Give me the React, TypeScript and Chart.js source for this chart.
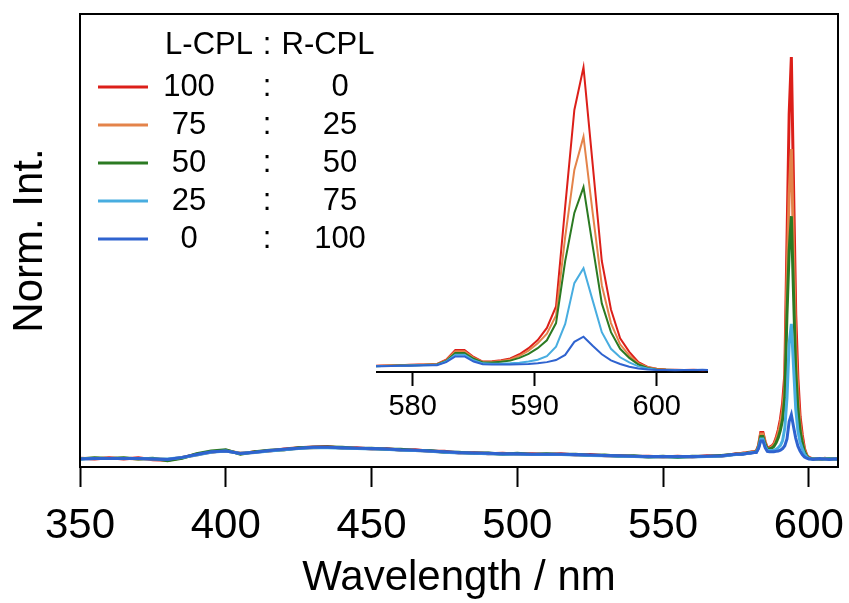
import React, { useEffect, useRef } from 'react';
import { Chart, registerables } from 'chart.js';

Chart.register(...registerables);

// Wavelength axis (nm)
const wavelengths = [
  350, 355, 360, 365, 370, 375, 380, 385, 390, 395,
  400, 405, 410, 415, 420, 425, 430, 435, 440, 445,
  450, 455, 460, 465, 470, 475, 480, 485, 490, 495,
  500, 505, 510, 515, 520, 525, 530, 535, 540, 545,
  550, 555, 560, 565, 570, 575,
  576.75, 577.5, 578.25, 579, 579.75, 580.5, 581.25, 582, 582.75, 583.5,
  584.25, 585, 585.75, 586.5, 587.25, 588, 588.75, 589.5, 590.25, 591,
  591.75, 592.5, 593.25, 594, 594.75, 595.5, 596.25, 597, 597.75, 598.5,
  599.25, 600, 600.75, 601.5, 602.25, 603, 603.75, 604.5, 605.5, 607,
  608.5, 610,
];

// L-CPL : R-CPL = 100 : 0
const red100 = [
  0.002, 0.000, 0.003, 0.000, 0.003, -0.002, -0.003, 0.003, 0.012, 0.017,
  0.022, 0.013, 0.018, 0.020, 0.025, 0.028, 0.030, 0.031, 0.027, 0.028,
  0.025, 0.026, 0.022, 0.023, 0.019, 0.019, 0.015, 0.016, 0.013, 0.014,
  0.012, 0.013, 0.011, 0.013, 0.010, 0.011, 0.008, 0.009, 0.006, 0.007,
  0.005, 0.007, 0.005, 0.008, 0.007, 0.013,
  0.014, 0.015, 0.015, 0.016, 0.017, 0.018, 0.018, 0.020, 0.034, 0.066,
  0.066, 0.043, 0.028, 0.029, 0.032, 0.038, 0.052, 0.072, 0.099, 0.139,
  0.210, 0.540, 0.859, 1.000, 0.680, 0.360, 0.200, 0.105, 0.060, 0.026,
  0.010, 0.004, 0.002, 0.001, 0.000, 0.001, -0.001, 0.000, 0.002, 0.000,
  0.001, 0.000,
];

// 75 : 25
const orange75 = [
  0.001, 0.002, 0.001, 0.002, 0.000, 0.001, -0.001, 0.004, 0.010, 0.018,
  0.020, 0.015, 0.016, 0.021, 0.023, 0.027, 0.028, 0.029, 0.028, 0.026,
  0.026, 0.024, 0.023, 0.021, 0.020, 0.017, 0.016, 0.014, 0.014, 0.012,
  0.013, 0.011, 0.012, 0.011, 0.011, 0.009, 0.009, 0.007, 0.007, 0.005,
  0.006, 0.005, 0.006, 0.006, 0.008, 0.012,
  0.013, 0.014, 0.015, 0.015, 0.016, 0.017, 0.018, 0.019, 0.032, 0.062,
  0.062, 0.040, 0.027, 0.027, 0.030, 0.035, 0.047, 0.064, 0.088, 0.120,
  0.180, 0.440, 0.661, 0.771, 0.520, 0.280, 0.155, 0.085, 0.048, 0.022,
  0.009, 0.003, 0.001, 0.000, 0.000, 0.000, 0.000, 0.000, 0.001, 0.000,
  0.000, 0.001,
];

// 50 : 50
const green50 = [
  0.000, 0.003, 0.001, 0.003, 0.000, 0.002, -0.004, 0.002, 0.013, 0.020,
  0.023, 0.012, 0.018, 0.022, 0.023, 0.028, 0.029, 0.030, 0.029, 0.026,
  0.027, 0.024, 0.024, 0.021, 0.021, 0.017, 0.017, 0.014, 0.015, 0.012,
  0.014, 0.011, 0.013, 0.011, 0.012, 0.009, 0.010, 0.007, 0.008, 0.005,
  0.007, 0.004, 0.007, 0.006, 0.009, 0.012,
  0.012, 0.013, 0.014, 0.015, 0.015, 0.016, 0.017, 0.018, 0.030, 0.056,
  0.056, 0.037, 0.025, 0.025, 0.027, 0.031, 0.040, 0.053, 0.072, 0.098,
  0.155, 0.360, 0.519, 0.604, 0.410, 0.220, 0.125, 0.070, 0.040, 0.018,
  0.007, 0.002, 0.001, 0.000, 0.000, 0.000, 0.000, 0.000, 0.000, 0.001,
  0.000, 0.000,
];

// 25 : 75
const sky25 = [
  0.000, 0.001, 0.001, 0.001, 0.001, 0.000, 0.000, 0.004, 0.010, 0.017,
  0.020, 0.014, 0.016, 0.020, 0.023, 0.026, 0.028, 0.028, 0.027, 0.026,
  0.025, 0.024, 0.022, 0.021, 0.019, 0.017, 0.015, 0.014, 0.013, 0.012,
  0.012, 0.011, 0.011, 0.011, 0.010, 0.009, 0.008, 0.007, 0.006, 0.005,
  0.005, 0.005, 0.005, 0.006, 0.007, 0.011,
  0.012, 0.013, 0.013, 0.014, 0.015, 0.016, 0.016, 0.017, 0.028, 0.050,
  0.050, 0.032, 0.022, 0.021, 0.021, 0.022, 0.024, 0.028, 0.034, 0.046,
  0.077, 0.152, 0.287, 0.336, 0.230, 0.125, 0.070, 0.042, 0.025, 0.012,
  0.005, 0.001, 0.000, 0.000, 0.000, 0.000, 0.000, 0.000, 0.000, 0.000,
  0.000, 0.000,
];

// 0 : 100
const blue0 = [
  0.000, 0.001, 0.001, 0.001, 0.001, 0.000, -0.001, 0.004, 0.011, 0.018,
  0.020, 0.014, 0.017, 0.021, 0.024, 0.027, 0.029, 0.029, 0.028, 0.027,
  0.026, 0.025, 0.023, 0.022, 0.020, 0.018, 0.016, 0.015, 0.014, 0.013,
  0.013, 0.012, 0.012, 0.012, 0.011, 0.010, 0.009, 0.008, 0.007, 0.006,
  0.006, 0.006, 0.006, 0.007, 0.008, 0.012,
  0.012, 0.012, 0.013, 0.014, 0.014, 0.015, 0.016, 0.016, 0.026, 0.045,
  0.045, 0.028, 0.019, 0.018, 0.018, 0.018, 0.019, 0.020, 0.022, 0.026,
  0.033, 0.050, 0.093, 0.110, 0.080, 0.052, 0.032, 0.020, 0.011, 0.005,
  0.002, 0.000, 0.000, -0.001, 0.000, 0.000, 0.001, 0.000, 0.000, -0.001,
  0.000, 0.000,
];

const series = [red100, orange75, green50, sky25, blue0];
const seriesColors = ['#dc1f19', '#e4834a', '#2b7a22', '#48ade0', '#2f63cf'];
const legendHeader = ['L-CPL', ':', 'R-CPL'];
const legendLeft = ['100', '75', '50', '25', '0'];
const legendRight = ['0', '25', '50', '75', '100'];

const mainTicks = [350, 400, 450, 500, 550, 600];
const insetTicks = [580, 590, 600];

const FONT = "'Liberation Sans', Arial, Helvetica, sans-serif";

function buildDatasets(width: number) {
  return series.map((values, i) => ({
    label: `${legendLeft[i]} : ${legendRight[i]}`,
    data: wavelengths.map((x, j) => ({ x, y: values[j] })),
    borderColor: seriesColors[i],
    backgroundColor: seriesColors[i],
    borderWidth: width,
    pointRadius: 0,
    tension: 0,
    fill: false,
    order: series.length - i,
  }));
}

const framePlugin = {
  id: 'frame',
  afterDatasetsDraw(chart: any) {
    const { ctx, chartArea } = chart;
    ctx.save();
    ctx.strokeStyle = '#000';
    ctx.lineWidth = 2;
    ctx.strokeRect(chartArea.left, chartArea.top, chartArea.right - chartArea.left, chartArea.bottom - chartArea.top);
    ctx.restore();
  },
};

const legendPlugin = {
  id: 'ratioLegend',
  afterDraw(chart: any) {
    const { ctx, chartArea } = chart;
    const L = chartArea.left;
    const T = chartArea.top;
    ctx.save();
    ctx.font = `31px ${FONT}`;
    ctx.fillStyle = '#000';
    ctx.textBaseline = 'middle';
    ctx.textAlign = 'center';
    const headerX = [L + 129, L + 187, L + 248];
    legendHeader.forEach((t, k) => ctx.fillText(t, headerX[k], T + 31));
    for (let i = 0; i < legendLeft.length; i++) {
      const y = T + 73 + i * 38;
      ctx.strokeStyle = seriesColors[i];
      ctx.lineWidth = 3;
      ctx.beginPath();
      ctx.moveTo(L + 18, y);
      ctx.lineTo(L + 68, y);
      ctx.stroke();
      ctx.fillText(legendLeft[i], L + 109, y);
      ctx.fillText(':', L + 187, y);
      ctx.fillText(legendRight[i], L + 260, y);
    }
    ctx.restore();
  },
};

const noSidePadding = (height: number) => (scale: any) => {
  scale.height = height;
  scale.paddingLeft = 0;
  scale.paddingRight = 0;
};

export default function App() {
  const mainRef = useRef<HTMLCanvasElement | null>(null);
  const insetRef = useRef<HTMLCanvasElement | null>(null);

  useEffect(() => {
    if (!mainRef.current || !insetRef.current) return;

    const main = new Chart(mainRef.current, {
      type: 'line',
      data: { datasets: buildDatasets(3) as any },
      options: {
        responsive: false,
        animation: false,
        devicePixelRatio: 1,
        layout: { padding: { left: 0, right: 11, top: 14, bottom: 0 } },
        plugins: { legend: { display: false }, tooltip: { enabled: false } },
        scales: {
          x: {
            type: 'linear',
            min: 350,
            max: 610,
            afterBuildTicks: (scale: any) => {
              scale.ticks = mainTicks.map((v) => ({ value: v }));
            },
            afterFit: noSidePadding(136),
            ticks: {
              font: { family: FONT, size: 42 },
              color: '#000',
              padding: 14,
              maxRotation: 0,
              autoSkip: false,
            },
            grid: {
              display: true,
              drawOnChartArea: false,
              drawTicks: true,
              tickLength: 20,
              tickWidth: 2,
              tickColor: '#000',
            },
            border: { display: true, color: '#000', width: 2 },
            title: {
              display: true,
              text: 'Wavelength / nm',
              font: { family: FONT, size: 42 },
              color: '#000',
              padding: { top: 0, bottom: -1 },
            },
          },
          y: {
            type: 'linear',
            min: -0.0199,
            max: 1.107,
            afterFit: (scale: any) => {
              scale.width = 80;
            },
            ticks: { display: false },
            grid: { display: false },
            border: { display: true, color: '#000', width: 2 },
            title: {
              display: true,
              text: 'Norm. Int.',
              font: { family: FONT, size: 42 },
              color: '#000',
              padding: { top: 5, bottom: 0 },
            },
          },
        },
      } as any,
      plugins: [framePlugin, legendPlugin],
    });

    const inset = new Chart(insetRef.current, {
      type: 'line',
      data: { datasets: buildDatasets(2) as any },
      options: {
        responsive: false,
        animation: false,
        devicePixelRatio: 1,
        layout: { padding: 0 },
        plugins: { legend: { display: false }, tooltip: { enabled: false } },
        scales: {
          x: {
            type: 'linear',
            min: 577,
            max: 604.2,
            afterBuildTicks: (scale: any) => {
              scale.ticks = insetTicks.map((v) => ({ value: v }));
            },
            afterFit: noSidePadding(50),
            ticks: {
              font: { family: FONT, size: 29 },
              color: '#000',
              padding: 4,
              maxRotation: 0,
              autoSkip: false,
            },
            grid: {
              display: true,
              drawOnChartArea: false,
              drawTicks: true,
              tickLength: 14,
              tickWidth: 2,
              tickColor: '#000',
            },
            border: { display: true, color: '#000', width: 2 },
          },
          y: {
            type: 'linear',
            display: false,
            min: -0.0066,
            max: 1.0241,
          },
        },
      } as any,
    });

    return () => {
      main.destroy();
      inset.destroy();
    };
  }, []);

  return (
    <div style={{ position: 'fixed', left: 0, top: 0, width: 849, height: 603, background: '#fff' }}>
      <canvas ref={mainRef} width={849} height={603} style={{ position: 'absolute', left: 0, top: 0, width: 849, height: 603 }} />
      <canvas ref={insetRef} width={332} height={362} style={{ position: 'absolute', left: 376, top: 60, width: 332, height: 362 }} />
    </div>
  );
}
